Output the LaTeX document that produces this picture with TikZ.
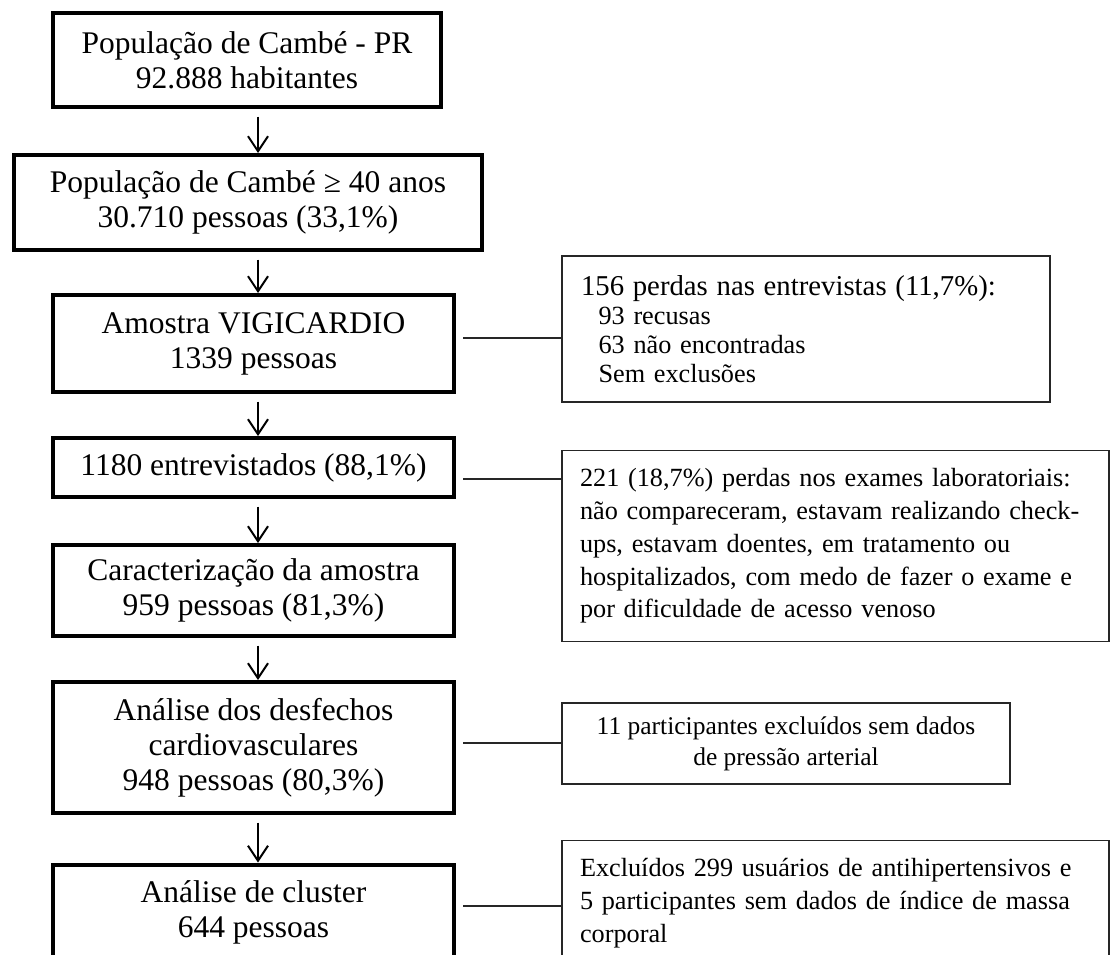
\documentclass[tikz,border=0pt]{standalone}
\usepackage{fontspec}
\setmainfont{Liberation Serif}
\usepackage{tikz}
\usetikzlibrary{arrows.meta,positioning,calc}
\tikzset{
  stagebox/.style={draw=black,line width=1.6pt,align=center,inner sep=2pt,
    font=\fontsize{12.6}{14}\selectfont},
  lossbox/.style={draw=black!85,line width=0.6pt,align=left,inner sep=7.2pt,
    font=\fontsize{10.5}{13.1}\selectfont},
  flowarrow/.style={-{Straight Barb[length=6pt,width=8pt]},line width=0.8pt,
    shorten <=3pt},
  sidelink/.style={line width=0.6pt,draw=black!85}
}

\begin{document}
\begin{tikzpicture}[x=0.4pt,y=-0.4pt]
\clip (0,0) rectangle (1111,954);
\fill[white] (0,0) rectangle (1111,954);
\coordinate (spine) at (258,0);
% main column
\node[stagebox,minimum width=155.2pt,minimum height=37.6pt] (populacao) at (247,60)
  {População de Cambé - PR\\92.888 habitantes};
\node[stagebox,minimum width=187.2pt,minimum height=38pt] (idade) at (248,202.5)
  {População de Cambé ≥ 40 anos\\30.710 pessoas (33,1\%)};
\node[stagebox,minimum width=160.4pt,minimum height=38.8pt] (amostra) at (253.5,343.5)
  {Amostra VIGICARDIO\\1339 pessoas};
\node[stagebox,minimum width=160.4pt,minimum height=23.6pt] (entrev) at (253.5,467.5)
  {1180 entrevistados (88,1\%)};
\node[stagebox,minimum width=160.4pt,minimum height=36.4pt] (caract) at (253.5,590.5)
  {Caracterização da amostra\\959 pessoas (81,3\%)};
\node[stagebox,minimum width=160.4pt,minimum height=52.4pt] (desfechos) at (253.5,747.5)
  {Análise dos desfechos\\cardiovasculares\\948 pessoas (80,3\%)};
\node[stagebox,minimum width=160.4pt,minimum height=38pt] (cluster) at (253.5,912)
  {Análise de cluster\\644 pessoas};
% side boxes
\node[lossbox,minimum width=195.2pt,minimum height=58.4pt,text width=180pt,
  font=\fontsize{10.5}{11.6}\selectfont] (perdasEntrev) at (806,329)
  {{\fontsize{11.5}{11.6}\selectfont 156 perdas nas entrevistas (11,7\%):}\\
   \hspace*{7pt}93 recusas\\\hspace*{7pt}63 não encontradas\\\hspace*{7pt}Sem exclusões};
\node[lossbox,minimum width=218.8pt,minimum height=69.6pt,text width=204.4pt] (perdasLab) at (835.5,546)
  {221 (18,7\%) perdas nos exames laboratoriais:\\
   não compareceram, estavam realizando check-\\
   ups, estavam doentes, em tratamento ou\\
   hospitalizados, com medo de fazer o exame e\\
   por dificuldade de acesso venoso};
\node[lossbox,align=center,minimum width=179.2pt,minimum height=32.4pt,inner sep=3pt,
  font=\fontsize{10.2}{12.4}\selectfont] (exclPressao) at (786,743.5)
  {11 participantes excluídos sem dados\\de pressão arterial};
\node[lossbox,minimum width=218.8pt,minimum height=46.4pt,text width=204.4pt] (exclImc) at (835.5,903)
  {Excluídos 299 usuários de antihipertensivos e\\
   5 participantes sem dados de índice de massa\\
   corporal};
% arrows
\draw[flowarrow] (populacao.south -| spine) -- (idade.north -| spine);
\draw[flowarrow] (idade.south -| spine) -- (amostra.north -| spine);
\draw[flowarrow] (amostra.south -| spine) -- (entrev.north -| spine);
\draw[flowarrow] (entrev.south -| spine) -- (caract.north -| spine);
\draw[flowarrow] (caract.south -| spine) -- (desfechos.north -| spine);
\draw[flowarrow] (desfechos.south -| spine) -- (cluster.north -| spine);
% side links
\draw[sidelink] ([xshift=2.8pt,yshift=2.2pt]amostra.east) -- ([yshift=2.2pt]amostra.east -| perdasEntrev.west);
\draw[sidelink] ([xshift=2.8pt,yshift=-4.6pt]entrev.east) -- ([yshift=-4.6pt]entrev.east -| perdasLab.west);
\draw[sidelink] ([xshift=2.8pt,yshift=1.8pt]desfechos.east) -- ([yshift=1.8pt]desfechos.east -| exclPressao.west);
\draw[sidelink] ([xshift=2.8pt,yshift=2.4pt]cluster.east) -- ([yshift=2.4pt]cluster.east -| exclImc.west);
\end{tikzpicture}
\end{document}
